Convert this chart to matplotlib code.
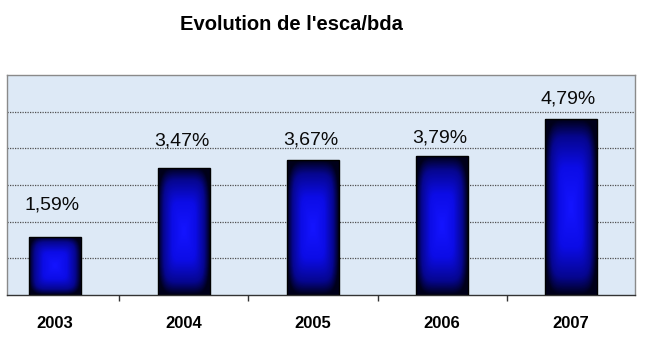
import numpy as np
import matplotlib
matplotlib.use("Agg")
import matplotlib.pyplot as plt
from matplotlib.colors import LinearSegmentedColormap

# Chart data
years = ["2003", "2004", "2005", "2006", "2007"]
values = [1.59, 3.47, 3.67, 3.79, 4.79]
value_labels = ["1,59%", "3,47%", "3,67%", "3,79%", "4,79%"]
title = "Evolution de l'esca/bda"

# label offset above bar top, in pixels (labels were placed by hand in the original)
label_offset_px = [32, 27, 20, 18, 20]

plt.rcParams['font.family'] = ['Liberation Sans', 'DejaVu Sans']

fig = plt.figure(figsize=(6.5, 3.52), dpi=100)
fig.patch.set_facecolor('white')
ax = fig.add_axes([7 / 650, 57 / 352, 628 / 650, 220 / 352])
ax.set_facecolor('#dde9f6')

x = np.arange(len(years))

# dotted gridlines
for y in range(1, 6):
    ax.axhline(y, color='#505050', linestyle=(0, (1, 1)), linewidth=0.9, zorder=1)

# bars with a "from centre" gradient fill
cmap = LinearSegmentedColormap.from_list(
    'bar', [(0.0, '#1414ff'), (0.45, '#0c0ce6'), (0.8, '#06068f'), (1.0, '#00001a')])
ny, nx = 200, 60
gy, gx = np.mgrid[-1:1:ny * 1j, -1:1:nx * 1j]
p = 5.0
grad = (np.abs(gx) ** p + np.abs(gy) ** p) ** (1 / p)
grad = np.clip(grad, 0, 1)

bars = ax.bar(x, values, width=0.40, facecolor='none', edgecolor='black',
              linewidth=1.0, zorder=3)
for b in bars:
    x0, w, h = b.get_x(), b.get_width(), b.get_height()
    im = ax.imshow(grad, cmap=cmap, extent=[x0, x0 + w, 0, h], aspect='auto',
                   origin='lower', zorder=2, interpolation='bilinear')
    im.set_clip_path(b)

# value labels
px_per_unit = 220 / 6
for xi, v, lab, off in zip(x, values, value_labels, label_offset_px):
    ax.text(xi - 0.02, v + off / px_per_unit, lab, ha='center', va='center',
            fontsize=14, color='#0a0a0a', zorder=4)

# category axis: ticks at boundaries, year labels at centres
ax.set_xticks(np.arange(-0.5, 5, 1.0))
ax.set_xticklabels([])
ax.tick_params(axis='x', which='major', direction='out', length=4, width=1,
               color='#333333')
ax.set_xticks(x, minor=True)
ax.set_xticklabels(years, minor=True, fontsize=12, fontweight='bold')
ax.tick_params(axis='x', which='minor', length=0, pad=15)
ax.set_yticks([])

# limits last, so the ticks do not widen them
ax.set_xlim(-0.372, 4.496)
ax.set_ylim(0, 6)

for side in ['top', 'right', 'left']:
    ax.spines[side].set_color('#8a8a8a')
    ax.spines[side].set_linewidth(1.0)
ax.spines['bottom'].set_color('#333333')
ax.spines['bottom'].set_linewidth(1.0)

fig.text(291 / 650, 1 - 25 / 352, title, ha='center', va='center',
         fontsize=14.5, fontweight='bold')

fig.savefig('out.png', dpi=100)
